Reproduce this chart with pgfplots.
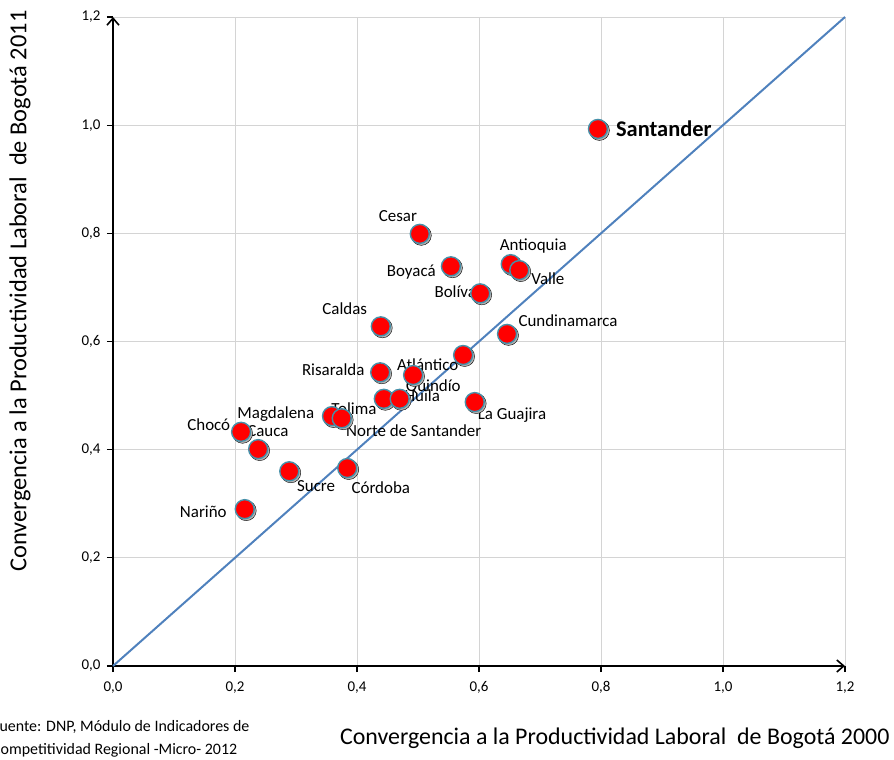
\documentclass[border=0pt]{standalone}
\usepackage{fontspec}
\setmainfont{Carlito}
\usepackage{pgfplots}
\pgfplotsset{compat=1.18}
\usetikzlibrary{arrows.meta}

\definecolor{dotred}{RGB}{255,0,0}
\definecolor{dotedge}{RGB}{70,145,170}
\definecolor{diag}{RGB}{79,129,189}
\newcommand{\lbl}{\fontsize{17}{19}\selectfont}

\pgfplotstableread{
x y
0.795 0.993
0.503 0.799
0.554 0.739
0.652 0.743
0.666 0.732
0.602 0.689
0.439 0.628
0.646 0.614
0.574 0.575
0.438 0.543
0.492 0.538
0.444 0.494
0.470 0.494
0.593 0.488
0.359 0.462
0.375 0.458
0.210 0.433
0.238 0.401
0.289 0.360
0.384 0.366
0.216 0.290
}\regiones

\begin{document}
\begin{tikzpicture}
\begin{axis}[
  scale only axis, width=732bp, height=649bp,
  xmin=0, xmax=1.2, ymin=0, ymax=1.2,
  xtick={0,0.2,0.4,0.6,0.8,1.0,1.2},
  ytick={0,0.2,0.4,0.6,0.8,1.0,1.2},
  axis lines=left,
  axis line style={black, line width=1.6bp, -{Straight Barb[length=7bp,width=12bp,line width=1.6bp]}},
  grid=major, grid style={black!17, line width=0.8bp},
  tick style={black, line width=1.2bp},
  tick align=outside, major tick length=6bp,
  clip=false,
  xticklabel style={font=\fontsize{15}{17}\selectfont, yshift=-6bp},
  yticklabel style={font=\fontsize{15}{17}\selectfont, xshift=-3bp},
  /pgf/number format/fixed,
  /pgf/number format/fixed zerofill,
  /pgf/number format/precision=1,
  /pgf/number format/use comma,
  /pgf/number format/assume math mode=true,
]
\addplot[diag, line width=2bp] coordinates {(0,0) (1.2,1.2)};
\addplot[only marks, mark=*, mark size=10bp,
  mark options={fill=black!30, draw=none, xshift=1.5bp, yshift=-1.5bp}] table {\regiones};
\addplot[only marks, mark=*, mark size=9.5bp,
  mark options={fill=dotred, draw=dotedge, line width=1.4bp}] table {\regiones};

\node[anchor=west, font=\fontsize{22.5}{24}\selectfont\bfseries] at (axis cs:0.819,0.993) {Santander};
\node[font=\lbl] at (axis cs:0.467,0.832) {Cesar};
\node[font=\lbl] at (axis cs:0.489,0.728) {Boyacá};
\node[font=\lbl] at (axis cs:0.689,0.776) {Antioquia};
\node[font=\lbl] at (axis cs:0.713,0.717) {Valle};
\node[font=\lbl] at (axis cs:0.566,0.693) {Bolívar};
\node[font=\lbl] at (axis cs:0.380,0.661) {Caldas};
\node[font=\lbl] at (axis cs:0.746,0.639) {Cundinamarca};
\node[font=\lbl] at (axis cs:0.361,0.547) {Risaralda};
\node[font=\lbl] at (axis cs:0.516,0.558) {Atlántico};
\node[font=\lbl] at (axis cs:0.525,0.516) {Quindío};
\node[font=\lbl] at (axis cs:0.507,0.499) {Huila};
\node[font=\lbl] at (axis cs:0.395,0.475) {Tolima};
\node[font=\lbl] at (axis cs:0.267,0.466) {Magdalena};
\node[font=\lbl] at (axis cs:0.493,0.436) {Norte de Santander};
\node[font=\lbl] at (axis cs:0.654,0.464) {La Guajira};
\node[font=\lbl] at (axis cs:0.157,0.447) {Chocó};
\node[font=\lbl] at (axis cs:0.254,0.434) {Cauca};
\node[font=\lbl] at (axis cs:0.333,0.333) {Sucre};
\node[font=\lbl] at (axis cs:0.439,0.329) {Córdoba};
\node[font=\lbl] at (axis cs:0.148,0.285) {Nariño};

\node[rotate=90, font=\fontsize{24.5}{26}\selectfont] at ([xshift=-93bp]rel axis cs:0,0.578)
  {Convergencia a la Productividad Laboral\ \ de Bogotá 2011};
\node[anchor=east, font=\fontsize{24}{26}\selectfont] at ([xshift=48bp,yshift=-72bp]rel axis cs:1,0)
  {Convergencia a la Productividad Laboral\ \ de Bogotá 2000};
\node[anchor=north west, align=left, inner sep=0pt, font=\fontsize{16}{23}\selectfont]
  at ([xshift=-121bp,yshift=-54bp]rel axis cs:0,0)
  {Fuente: DNP, Módulo de Indicadores de\\Competitividad Regional -Micro- 2012};

\coordinate (LL) at (rel axis cs:0,0);
\coordinate (UR) at (rel axis cs:1,1);
\end{axis}
\pgfresetboundingbox
\path ([shift={(-113bp,-94bp)}]LL) rectangle ([shift={(49bp,17bp)}]UR);
\end{tikzpicture}
\end{document}
